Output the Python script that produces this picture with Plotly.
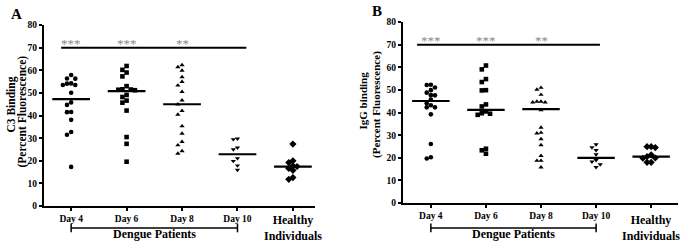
import plotly.graph_objects as go

# ---------------- data ----------------
categories = ["Day 4", "Day 6", "Day 8", "Day 10", "Healthy Individuals"]
tick_labels = ["Day 4", "Day 6", "Day 8", "Day 10", ""]

a_day4 = [57.9, 56.3, 56.4, 54.2, 53.5, 53.5, 54.1, 50.1, 44.7, 45.8, 41.6, 41.5, 38.1, 32.7, 31.5, 17.3]
a_day6 = [61.9, 60.2, 59.0, 57.3, 53.0, 51.4, 51.2, 51.5, 51.6, 49.1, 48.2, 46.6, 45.7, 42.2, 30.5, 27.5, 19.6]
a_day8 = [61.4, 62.3, 59.9, 57.0, 54.9, 53.3, 50.5, 46.7, 45.0, 42.1, 40.4, 35.3, 32.0, 28.4, 26.9, 24.3, 23.2]
a_day10 = [29.8, 29.5, 25.8, 25.0, 21.1, 19.9, 17.9, 16.0]
a_healthy = [27.4, 20.0, 19.2, 17.8, 17.5, 16.6, 15.8, 12.6, 11.8]
a_medians = [47.3, 50.8, 45.0, 22.9, 17.4]

b_day4 = [52.3, 52.2, 51.1, 49.9, 48.8, 47.6, 47.7, 45.8, 44.1, 42.3, 42.3, 43.2, 39.2, 26.1, 19.7, 20.2]
b_day6 = [60.8, 59.1, 53.5, 54.8, 49.9, 49.8, 43.6, 42.7, 40.5, 39.5, 39.0, 39.7, 24.0, 21.8, 23.3]
b_day8 = [50.2, 51.0, 47.9, 44.9, 44.5, 44.5, 44.9, 41.1, 33.4, 31.1, 30.8, 28.3, 25.6, 20.9, 18.7, 18.7, 15.8]
b_day10 = [25.9, 24.6, 23.4, 21.5, 18.9, 18.3, 17.1, 15.8]
b_healthy = [24.9, 24.5, 24.9, 21.3, 20.5, 19.8, 19.9, 18.0, 18.0]
b_medians = [45.1, 41.2, 41.5, 20.0, 20.5]

a_title = ["C3 Binding", "(Percent Fluorescence)"]
b_title = ["IgG binding", "(Percent Fluorescence)"]

stars = ["***", "***", "**"]
sig_level = 70

symbols = ["circle", "square", "triangle-up", "triangle-down", "diamond"]

FONT = "Liberation Serif"


def beeswarm(values, step=0.075, gap=1.8):
    """Return horizontal offsets so overlapping values are spread sideways."""
    order = sorted(range(len(values)), key=lambda i: -values[i])
    placed = []
    offs = [0.0] * len(values)
    cand = [0]
    for k in range(1, 8):
        cand += [-k, k]
    for i in order:
        v = values[i]
        for c in cand:
            ok = True
            for (pc, pv) in placed:
                if abs(pv - v) < gap and abs(pc - c) < 1:
                    ok = False
                    break
            if ok:
                placed.append((c, v))
                offs[i] = c * step
                break
    return offs


fig = go.Figure()

panels = [
    ("x", "y", [a_day4, a_day6, a_day8, a_day10, a_healthy], a_medians),
    ("x2", "y2", [b_day4, b_day6, b_day8, b_day10, b_healthy], b_medians),
]

for xa, ya, groups, meds in panels:
    for gi, vals in enumerate(groups):
        offs = beeswarm(vals)
        fig.add_trace(go.Scatter(
            x=[gi + o for o in offs], y=vals, mode="markers", xaxis=xa, yaxis=ya,
            marker=dict(symbol=symbols[gi], size=4.6 if gi != 4 else 5.5, color="black",
                        line=dict(width=0)),
            showlegend=False, cliponaxis=False))
        fig.add_trace(go.Scatter(
            x=[gi - 0.34, gi + 0.34], y=[meds[gi], meds[gi]], mode="lines",
            xaxis=xa, yaxis=ya, line=dict(color="black", width=2.2),
            showlegend=False))

axis_common = dict(
    showline=True, linecolor="black", linewidth=2, showgrid=False, zeroline=False,
    ticks="outside", tickcolor="black", ticklen=3, tickwidth=1.5, automargin=False,
    tickfont=dict(family=FONT, size=9.5, color="black", weight="bold"),
)

fig.update_layout(
    width=685, height=243, margin=dict(l=0, r=0, t=0, b=0),
    paper_bgcolor="white", plot_bgcolor="white",
    xaxis=dict(domain=[0.0642, 0.46], range=[-0.49, 4.4], tickvals=list(range(5)),
               ticktext=tick_labels, **axis_common),
    yaxis=dict(domain=[0.152, 0.897], range=[0, 80], dtick=10, **axis_common),
    xaxis2=dict(domain=[0.588, 0.99], range=[-0.51, 4.49], tickvals=list(range(5)),
                ticktext=tick_labels, anchor="y2", **axis_common),
    yaxis2=dict(domain=[0.1646, 0.909], range=[0, 80], dtick=10, anchor="x2",
                **axis_common),
)

shapes = []
annotations = []
for xa, ya, lo, hi, brk_y, txt_y in [("x", "y", -0.18, 3.16, 0.062, 0.036),
                                     ("x2", "y2", -0.25, 3.07, 0.062, 0.036)]:
    # significance line
    shapes.append(dict(type="line", xref=xa, yref=ya, x0=lo, x1=hi, y0=sig_level, y1=sig_level,
                       line=dict(color="black", width=2)))
    for i, s in enumerate(stars):
        annotations.append(dict(x=i, y=sig_level, xref=xa, yref=ya, text=s, showarrow=False,
                                yanchor="bottom", yshift=-5,
                                font=dict(family=FONT, size=13, color="#888888")))
    # dengue bracket
    shapes.append(dict(type="line", xref=xa, yref="paper", x0=0, x1=3, y0=brk_y, y1=brk_y,
                       line=dict(color="black", width=1.5)))
    for xx in (0, 3):
        shapes.append(dict(type="line", xref=xa, yref="paper", x0=xx, x1=xx,
                           y0=brk_y - 0.018, y1=brk_y + 0.018,
                           line=dict(color="black", width=1.5)))
    annotations.append(dict(x=1.5, y=txt_y, xref=xa, yref="paper", text="<b>Dengue Patients</b>",
                            showarrow=False, yanchor="middle",
                            font=dict(family=FONT, size=12, color="black")))
    annotations.append(dict(x=4, y=0.062, xref=xa, yref="paper",
                            text="<b>Healthy<br>Individuals</b>", showarrow=False,
                            yanchor="middle",
                            font=dict(family=FONT, size=12, color="black")))

# rotated y-axis titles (two lines each)
for txt, xp, yp, fs in [(a_title[0], 11.0 / 685, 1 - 104.5 / 243, 11.5),
                        (a_title[1], 21.5 / 685, 1 - 112 / 243, 11.5),
                        (b_title[0], 362.5 / 685, 1 - 101 / 243, 11),
                        (b_title[1], 377.0 / 685, 1 - 105 / 243, 11)]:
    annotations.append(dict(x=xp, y=yp, xref="paper", yref="paper", text="<b>%s</b>" % txt,
                            textangle=-90, showarrow=False, xanchor="center", yanchor="middle",
                            font=dict(family=FONT, size=fs, color="black")))

annotations.append(dict(x=0.013, y=0.985, xref="paper", yref="paper", text="<b>A</b>",
                        showarrow=False, xanchor="left", yanchor="top",
                        font=dict(family=FONT, size=15, color="black")))
annotations.append(dict(x=0.54, y=0.995, xref="paper", yref="paper", text="<b>B</b>",
                        showarrow=False, xanchor="left", yanchor="top",
                        font=dict(family=FONT, size=15, color="black")))

fig.update_layout(shapes=shapes, annotations=annotations)

fig.write_html("out.html", config={"displayModeBar": False})

# remove the browser's default page margin so the figure sits at the window origin
with open("out.html", "r", encoding="utf-8") as fh:
    html = fh.read()
html = html.replace("<head>", "<head><style>html,body{margin:0;padding:0;overflow:hidden;}</style>", 1)
with open("out.html", "w", encoding="utf-8") as fh:
    fh.write(html)
